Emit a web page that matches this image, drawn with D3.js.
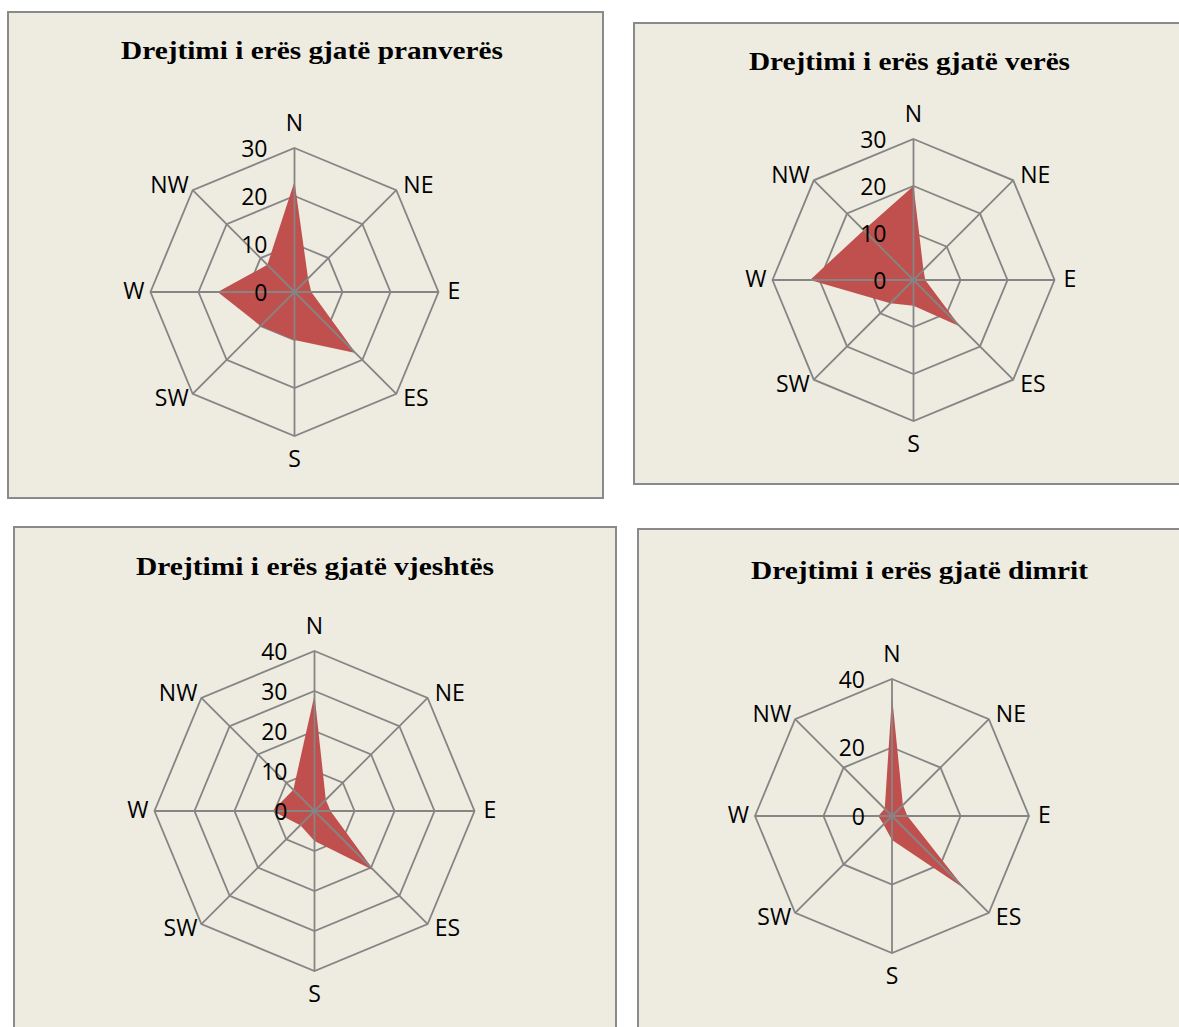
<!DOCTYPE html>
<html>
<head>
<meta charset="utf-8">
<script src="https://cdn.jsdelivr.net/npm/d3@7"></script>
<style>
  html, body { margin: 0; padding: 0; background: #ffffff; }
  svg { display: block; }
</style>
</head>
<body>
<svg id="chart" width="1179" height="1027"></svg>
<script>
// ---- data ----
const categories = ["N", "NE", "E", "ES", "S", "SW", "W", "NW"];
const titles = [
  "Drejtimi i erës gjatë pranverës",
  "Drejtimi i erës gjatë verës",
  "Drejtimi i erës gjatë vjeshtës",
  "Drejtimi i erës gjatë dimrit"
];
const springValues = [23, 4, 3.5, 18, 10, 10, 16, 8];
const summerValues = [20, 3, 2.5, 14, 5.5, 7, 22, 15];
const autumnValues = [29, 4, 4, 21, 7.5, 5, 10.5, 7.5];
const winterValues = [35, 4.5, 4.5, 30, 7, 3.5, 4, 3];
const springTicks = [0, 10, 20, 30];
const summerTicks = [0, 10, 20, 30];
const autumnTicks = [0, 10, 20, 30, 40];
const winterTicks = [0, 20, 40];

// ---- layout ----
const panels = [
  { title: titles[0], values: springValues, ticks: springTicks,
    box: [8, 12, 595, 486], titleX: 312, titleY: 59, titleW: 382, cx: 294.5, cy: 292, r: 144 },
  { title: titles[1], values: summerValues, ticks: summerTicks,
    box: [634, 23, 620, 461], titleX: 909.5, titleY: 70, titleW: 321, cx: 913.5, cy: 280, r: 141 },
  { title: titles[2], values: autumnValues, ticks: autumnTicks,
    box: [14, 527, 602, 560], titleX: 315, titleY: 575, titleW: 358, cx: 314.5, cy: 811, r: 160 },
  { title: titles[3], values: winterValues, ticks: winterTicks,
    box: [638, 529, 620, 560], titleX: 919.5, titleY: 579, titleW: 337, cx: 892, cy: 816, r: 137 }
];

const svg = d3.select("#chart");
const gridColor = "#858585";
const fillColor = "#C0504D";
const labelFont = "'Open Sans', 'Noto Sans', sans-serif";

const angle = d3.scalePoint().domain(categories).range([0, 2 * Math.PI * (categories.length - 1) / categories.length]);

panels.forEach(p => {
  const g = svg.append("g");
  const [bx, by, bw, bh] = p.box;
  g.append("rect")
    .attr("x", bx).attr("y", by).attr("width", bw).attr("height", bh)
    .attr("fill", "#EEEBE0").attr("stroke", "#8a8a8a").attr("stroke-width", 2);

  g.append("text")
    .attr("x", p.titleX).attr("y", p.titleY)
    .attr("text-anchor", "middle")
    .attr("font-family", "'Liberation Serif', 'Times New Roman', serif")
    .attr("font-weight", "bold")
    .attr("font-size", 26)
    .attr("textLength", p.titleW)
    .attr("lengthAdjust", "spacingAndGlyphs")
    .attr("fill", "#000")
    .text(p.title);

  const maxV = d3.max(p.ticks);
  const rScale = d3.scaleLinear().domain([0, maxV]).range([0, p.r]);
  const chart = g.append("g").attr("transform", `translate(${p.cx},${p.cy})`);

  const pt = (cat, v) => {
    const a = angle(cat);
    return [Math.sin(a) * rScale(v), -Math.cos(a) * rScale(v)];
  };

  // rings (behind the fill)
  p.ticks.filter(t => t > 0).forEach(t => {
    chart.append("path")
      .attr("d", d3.line()(categories.map(c => pt(c, t))) + "Z")
      .attr("fill", "none").attr("stroke", gridColor).attr("stroke-width", 1.8);
  });

  // filled series
  const radial = d3.lineRadial()
    .angle((d, i) => angle(categories[i]))
    .radius(d => rScale(d))
    .curve(d3.curveLinearClosed);
  chart.append("path")
    .attr("d", radial(p.values))
    .attr("fill", fillColor).attr("stroke", "none");

  // spokes (on top)
  categories.forEach(c => {
    const [x, y] = pt(c, maxV);
    chart.append("line")
      .attr("x1", 0).attr("y1", 0).attr("x2", x).attr("y2", y)
      .attr("stroke", gridColor).attr("stroke-width", 1.8);
  });

  // category labels
  categories.forEach(c => {
    const a = angle(c);
    const s = Math.sin(a), co = Math.cos(a);
    const [x, y] = pt(c, maxV);
    let dx = 0, anchor = "middle";
    if (s > 0.1) { dx = (s > 0.9 ? 9 : 7); anchor = "start"; }
    else if (s < -0.1) { dx = (s < -0.9 ? -6 : -4); anchor = "end"; }
    let dy;
    if (co > 0.9) dy = -17;
    else if (co < -0.9) dy = 31;
    else if (co > 0.1) dy = 3;
    else if (co < -0.1) dy = 12;
    else dy = 7;
    chart.append("text")
      .attr("x", x + dx).attr("y", y + dy)
      .attr("text-anchor", anchor)
      .attr("font-family", labelFont)
      .attr("font-size", 23)
      .attr("fill", "#000")
      .text(c);
  });

  // value tick labels
  p.ticks.forEach(t => {
    chart.append("text")
      .attr("x", -27).attr("y", -rScale(t) + 8.5)
      .attr("text-anchor", "end")
      .attr("font-family", labelFont)
      .attr("font-size", 23)
      .attr("fill", "#000")
      .text(t);
  });
});
</script>
</body>
</html>
